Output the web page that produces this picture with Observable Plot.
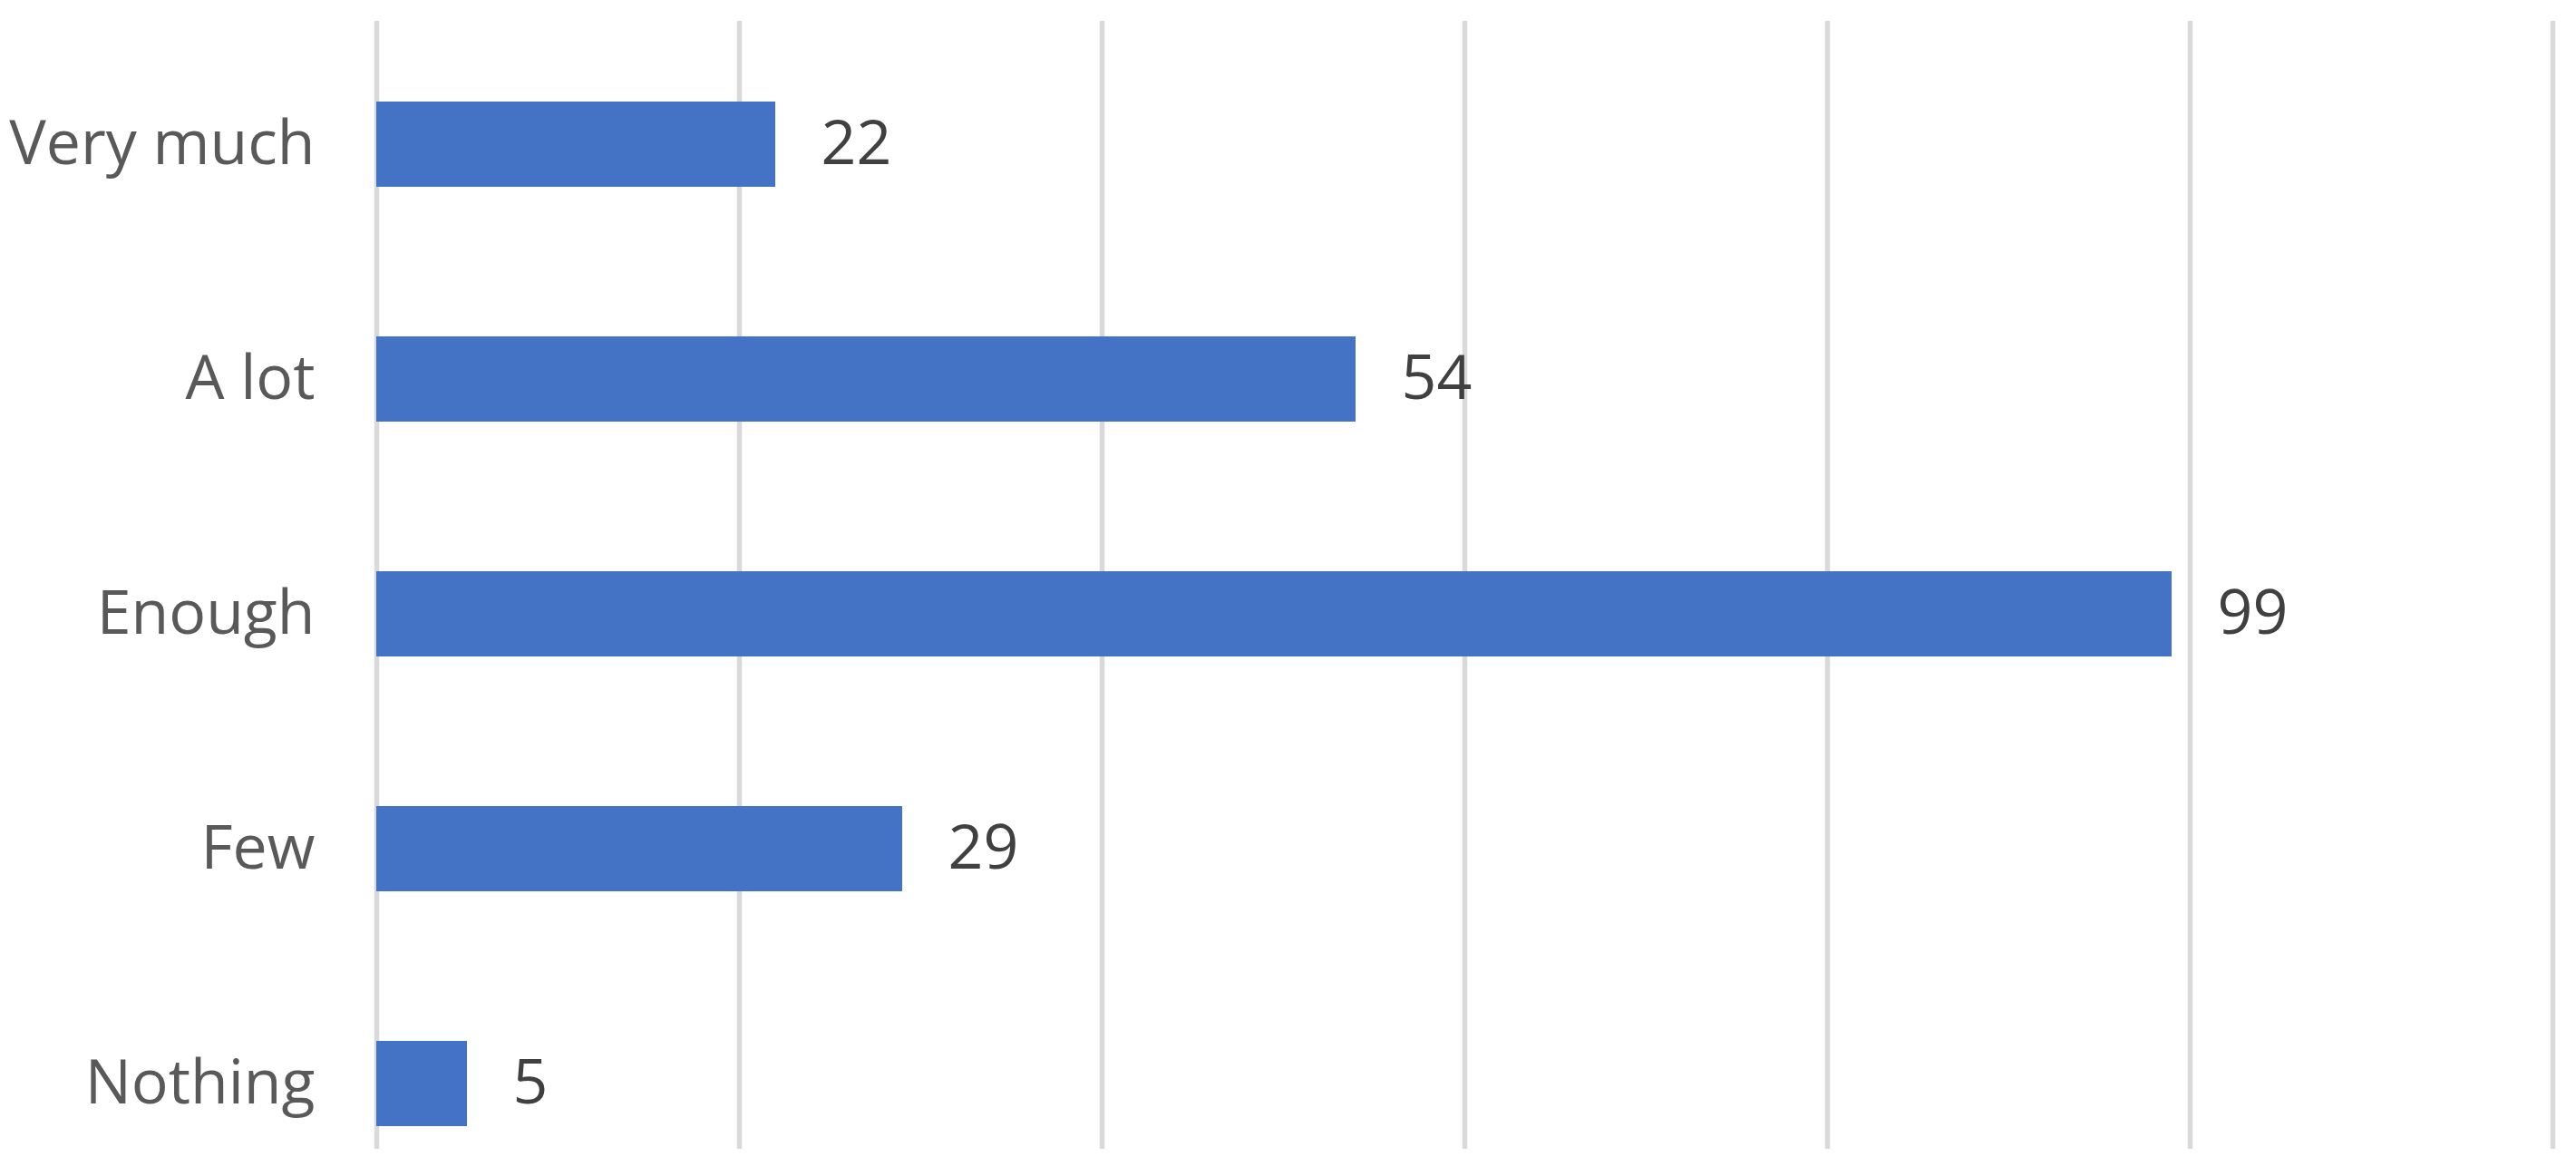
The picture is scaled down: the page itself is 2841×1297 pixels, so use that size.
<!DOCTYPE html>
<html>
<head>
<meta charset="utf-8">
<script src="https://cdn.jsdelivr.net/npm/d3@7"></script>
<script src="https://cdn.jsdelivr.net/npm/@observablehq/plot@0.6"></script>
<style>
  html, body { margin: 0; padding: 0; background: #ffffff; }
  #chart svg { display: block; }
</style>
</head>
<body>
<div id="chart"></div>
<script>
const categories = ["Very much", "A lot", "Enough", "Few", "Nothing"];
const values = [22, 54, 99, 29, 5];
const gridTicks = [0, 20, 40, 60, 80, 100, 120];

const data = categories.map((c, i) => ({category: c, value: values[i]}));

const chart = Plot.plot({
  width: 2841,
  height: 1297,
  marginTop: 23,
  marginBottom: 30,
  marginLeft: 415,
  marginRight: 26,
  style: {fontFamily: "'Open Sans', 'Liberation Sans', sans-serif", fontSize: "68px", background: "#ffffff"},
  x: {domain: [0, 120], axis: null},
  y: {domain: categories, paddingInner: 0.6378, paddingOuter: 0.2158, align: 0.777, label: null},
  marks: [
    Plot.ruleX(gridTicks, {stroke: "#d9d9d9", strokeWidth: 5.5}),
    Plot.barX(data, {x: "value", y: "category", fill: "#4472C4"}),
    Plot.text(data, {x: "value", y: "category", text: d => String(d.value), dx: 50, textAnchor: "start", fill: "#404040", fontSize: 68}),
    Plot.axisY({tickSize: 0, tickPadding: 68, fontSize: 68, color: "#595959", label: null})
  ]
});
document.getElementById("chart").appendChild(chart);
</script>
</body>
</html>
